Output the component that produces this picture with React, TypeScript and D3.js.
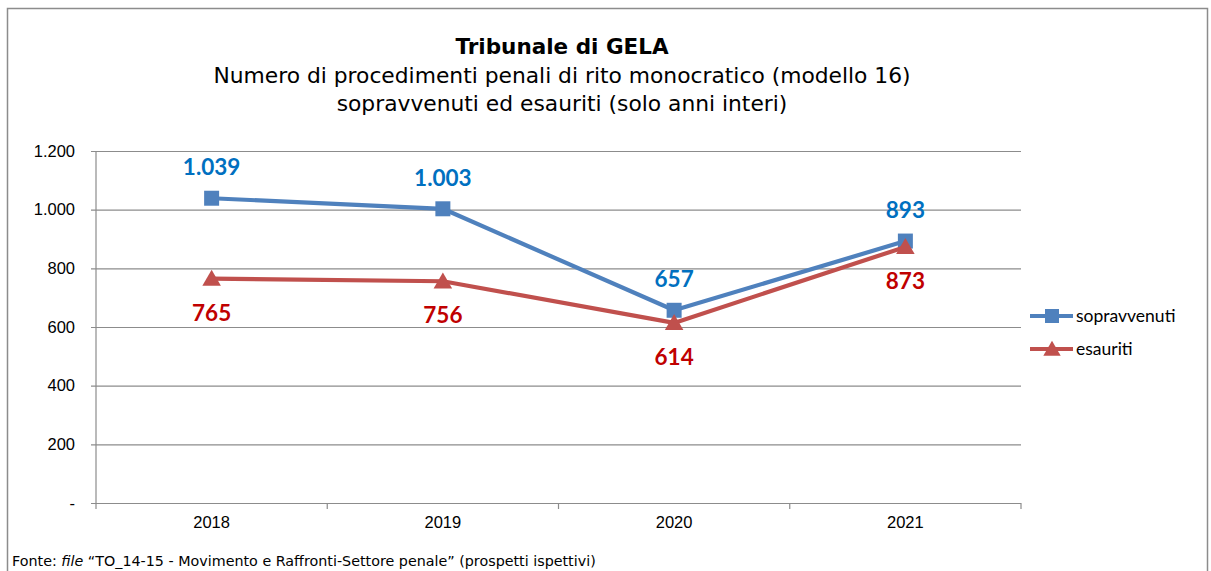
import React, { useRef, useEffect } from "react";
import * as d3 from "d3";

const years = ["2018", "2019", "2020", "2021"];
const sopravvenuti = [1039, 1003, 657, 893];
const esauriti = [765, 756, 614, 873];
const yTicks = [0, 200, 400, 600, 800, 1000, 1200];
// label placement: -1 above, 1 below
const sopPos = [-1, -1, -1, -1];
const esaPos = [1, 1, 1, 1];

const fmt = (v: number) => (v === 0 ? "-" : d3.format(",")(v).replace(/,/g, "."));

const App = () => {
  const svgRef = useRef<SVGSVGElement>(null);
  const W = 1211;
  const H = 571;

  useEffect(() => {
    const svg = d3.select(svgRef.current);
    svg.selectAll("*").remove();

    // outer frame
    svg
      .append("rect")
      .attr("x", 7.5)
      .attr("y", 8.5)
      .attr("width", 1200)
      .attr("height", 580)
      .attr("fill", "#fff")
      .attr("stroke", "#8c8c8c")
      .attr("stroke-width", 1.5);

    const title = svg.append("g").attr("font-family", "'DejaVu Sans', Verdana, sans-serif").attr("text-anchor", "middle");
    title.append("text").attr("x", 562).attr("y", 54).attr("font-size", 21.5).attr("font-weight", "bold").text("Tribunale di GELA");
    title.append("text").attr("x", 562).attr("y", 83).attr("font-size", 21.8).text("Numero di procedimenti penali di rito monocratico (modello 16)");
    title.append("text").attr("x", 562).attr("y", 111).attr("font-size", 21.8).text("sopravvenuti ed esauriti (solo anni interi)");

    const x = d3.scaleBand().domain(years).range([96, 1021]);
    const y = d3.scaleLinear().domain([0, 1200]).range([503, 151]);
    const cx = (i: number) => (x(years[i]) as number) + x.bandwidth() / 2;

    // gridlines
    const yAxis = d3
      .axisLeft(y)
      .tickValues(yTicks)
      .tickSize(-(1021 - 96))
      .tickPadding(21)
      .tickFormat((d) => fmt(d as number));
    const yg = svg.append("g").attr("transform", "translate(96,0)").call(yAxis);
    yg.select(".domain").remove();
    yg.selectAll(".tick line").attr("stroke", "#8c8c8c").attr("stroke-width", 1.2).attr("x2", -5);
    yg.selectAll(".tick line").attr("x1", 1021 - 96);
    yg.selectAll(".tick text")
      .attr("font-family", "'Liberation Sans', Arial, sans-serif")
      .attr("font-size", 16.5)
      .attr("fill", "#000");
    svg.append("line").attr("x1", 96).attr("x2", 96).attr("y1", 151).attr("y2", 503).attr("stroke", "#8c8c8c").attr("stroke-width", 1.2);

    // x axis
    const xg = svg.append("g").attr("transform", "translate(0,503)");
    const bounds = [...years.map((d) => x(d) as number), 1021];
    xg.selectAll("line.tk")
      .data(bounds)
      .join("line")
      .attr("x1", (d) => d)
      .attr("x2", (d) => d)
      .attr("y1", 0)
      .attr("y2", 6)
      .attr("stroke", "#8c8c8c")
      .attr("stroke-width", 1.2);
    xg.selectAll("text")
      .data(years)
      .join("text")
      .attr("x", (d, i) => cx(i))
      .attr("y", 25)
      .attr("text-anchor", "middle")
      .attr("font-family", "'Liberation Sans', Arial, sans-serif")
      .attr("font-size", 16.5)
      .text((d) => d);

    const line = d3
      .line<number>()
      .x((d, i) => cx(i))
      .y((d) => y(d));

    const series = [
      { name: "sopravvenuti", values: sopravvenuti, color: "#4F81BD", label: "#0070C0", pos: sopPos, marker: "square" },
      { name: "esauriti", values: esauriti, color: "#C0504D", label: "#C00000", pos: esaPos, marker: "triangle" },
    ];

    const markerPath = (type: string, s: number) =>
      type === "square"
        ? `M${-s / 2},${-s / 2}h${s}v${s}h${-s}Z`
        : `M0,${-s * 0.55}L${s * 0.58},${s * 0.45}L${-s * 0.58},${s * 0.45}Z`;

    series.forEach((s) => {
      svg
        .append("path")
        .datum(s.values)
        .attr("d", line)
        .attr("fill", "none")
        .attr("stroke", s.color)
        .attr("stroke-width", 4.2)
        .attr("stroke-linejoin", "round");
      svg
        .selectAll(null)
        .data(s.values)
        .join("path")
        .attr("transform", (d, i) => `translate(${cx(i)},${y(d)})`)
        .attr("d", markerPath(s.marker, s.marker === "square" ? 15 : 16))
        .attr("fill", s.color);
    });

    series.forEach((s) => {
      svg
        .selectAll(null)
        .data(s.values)
        .join("text")
        .attr("x", (d, i) => cx(i))
        .attr("y", (d, i) => y(d) + (s.pos[i] < 0 ? -23 : 42))
        .attr("text-anchor", "middle")
        .attr("font-family", "Lato, 'Open Sans', sans-serif")
        .attr("font-weight", "bold")
        .attr("font-size", 22.5)
        .attr("fill", s.label)
        .text((d) => fmt(d));
    });

    // legend
    const lg = svg.append("g");
    series.forEach((s, i) => {
      const ly = 316 + i * 33;
      lg.append("line").attr("x1", 1030).attr("x2", 1073).attr("y1", ly).attr("y2", ly).attr("stroke", s.color).attr("stroke-width", 4.2);
      lg.append("path")
        .attr("transform", `translate(1052,${ly})`)
        .attr("d", markerPath(s.marker, s.marker === "square" ? 14 : 15))
        .attr("fill", s.color);
      lg.append("text")
        .attr("x", 1076)
        .attr("y", ly + 6)
        .attr("font-family", "Lato, 'Open Sans', sans-serif")
        .attr("font-size", 17.5)
        .text(s.name);
    });

    // source
    const src = svg
      .append("text")
      .attr("x", 12)
      .attr("y", 566)
      .attr("font-family", "'DejaVu Sans', Verdana, sans-serif")
      .attr("font-size", 14.3);
    src.append("tspan").text("Fonte: ");
    src.append("tspan").attr("font-style", "italic").text("file");
    src.append("tspan").text(" \u201CTO_14-15 - Movimento e Raffronti-Settore penale\u201D (prospetti ispettivi)");
  }, []);

  return (
    <div style={{ position: "absolute", left: 0, top: 0 }}>
      <svg ref={svgRef} width={W} height={H} style={{ display: "block", background: "#fff" }} />
    </div>
  );
};

export default App;
